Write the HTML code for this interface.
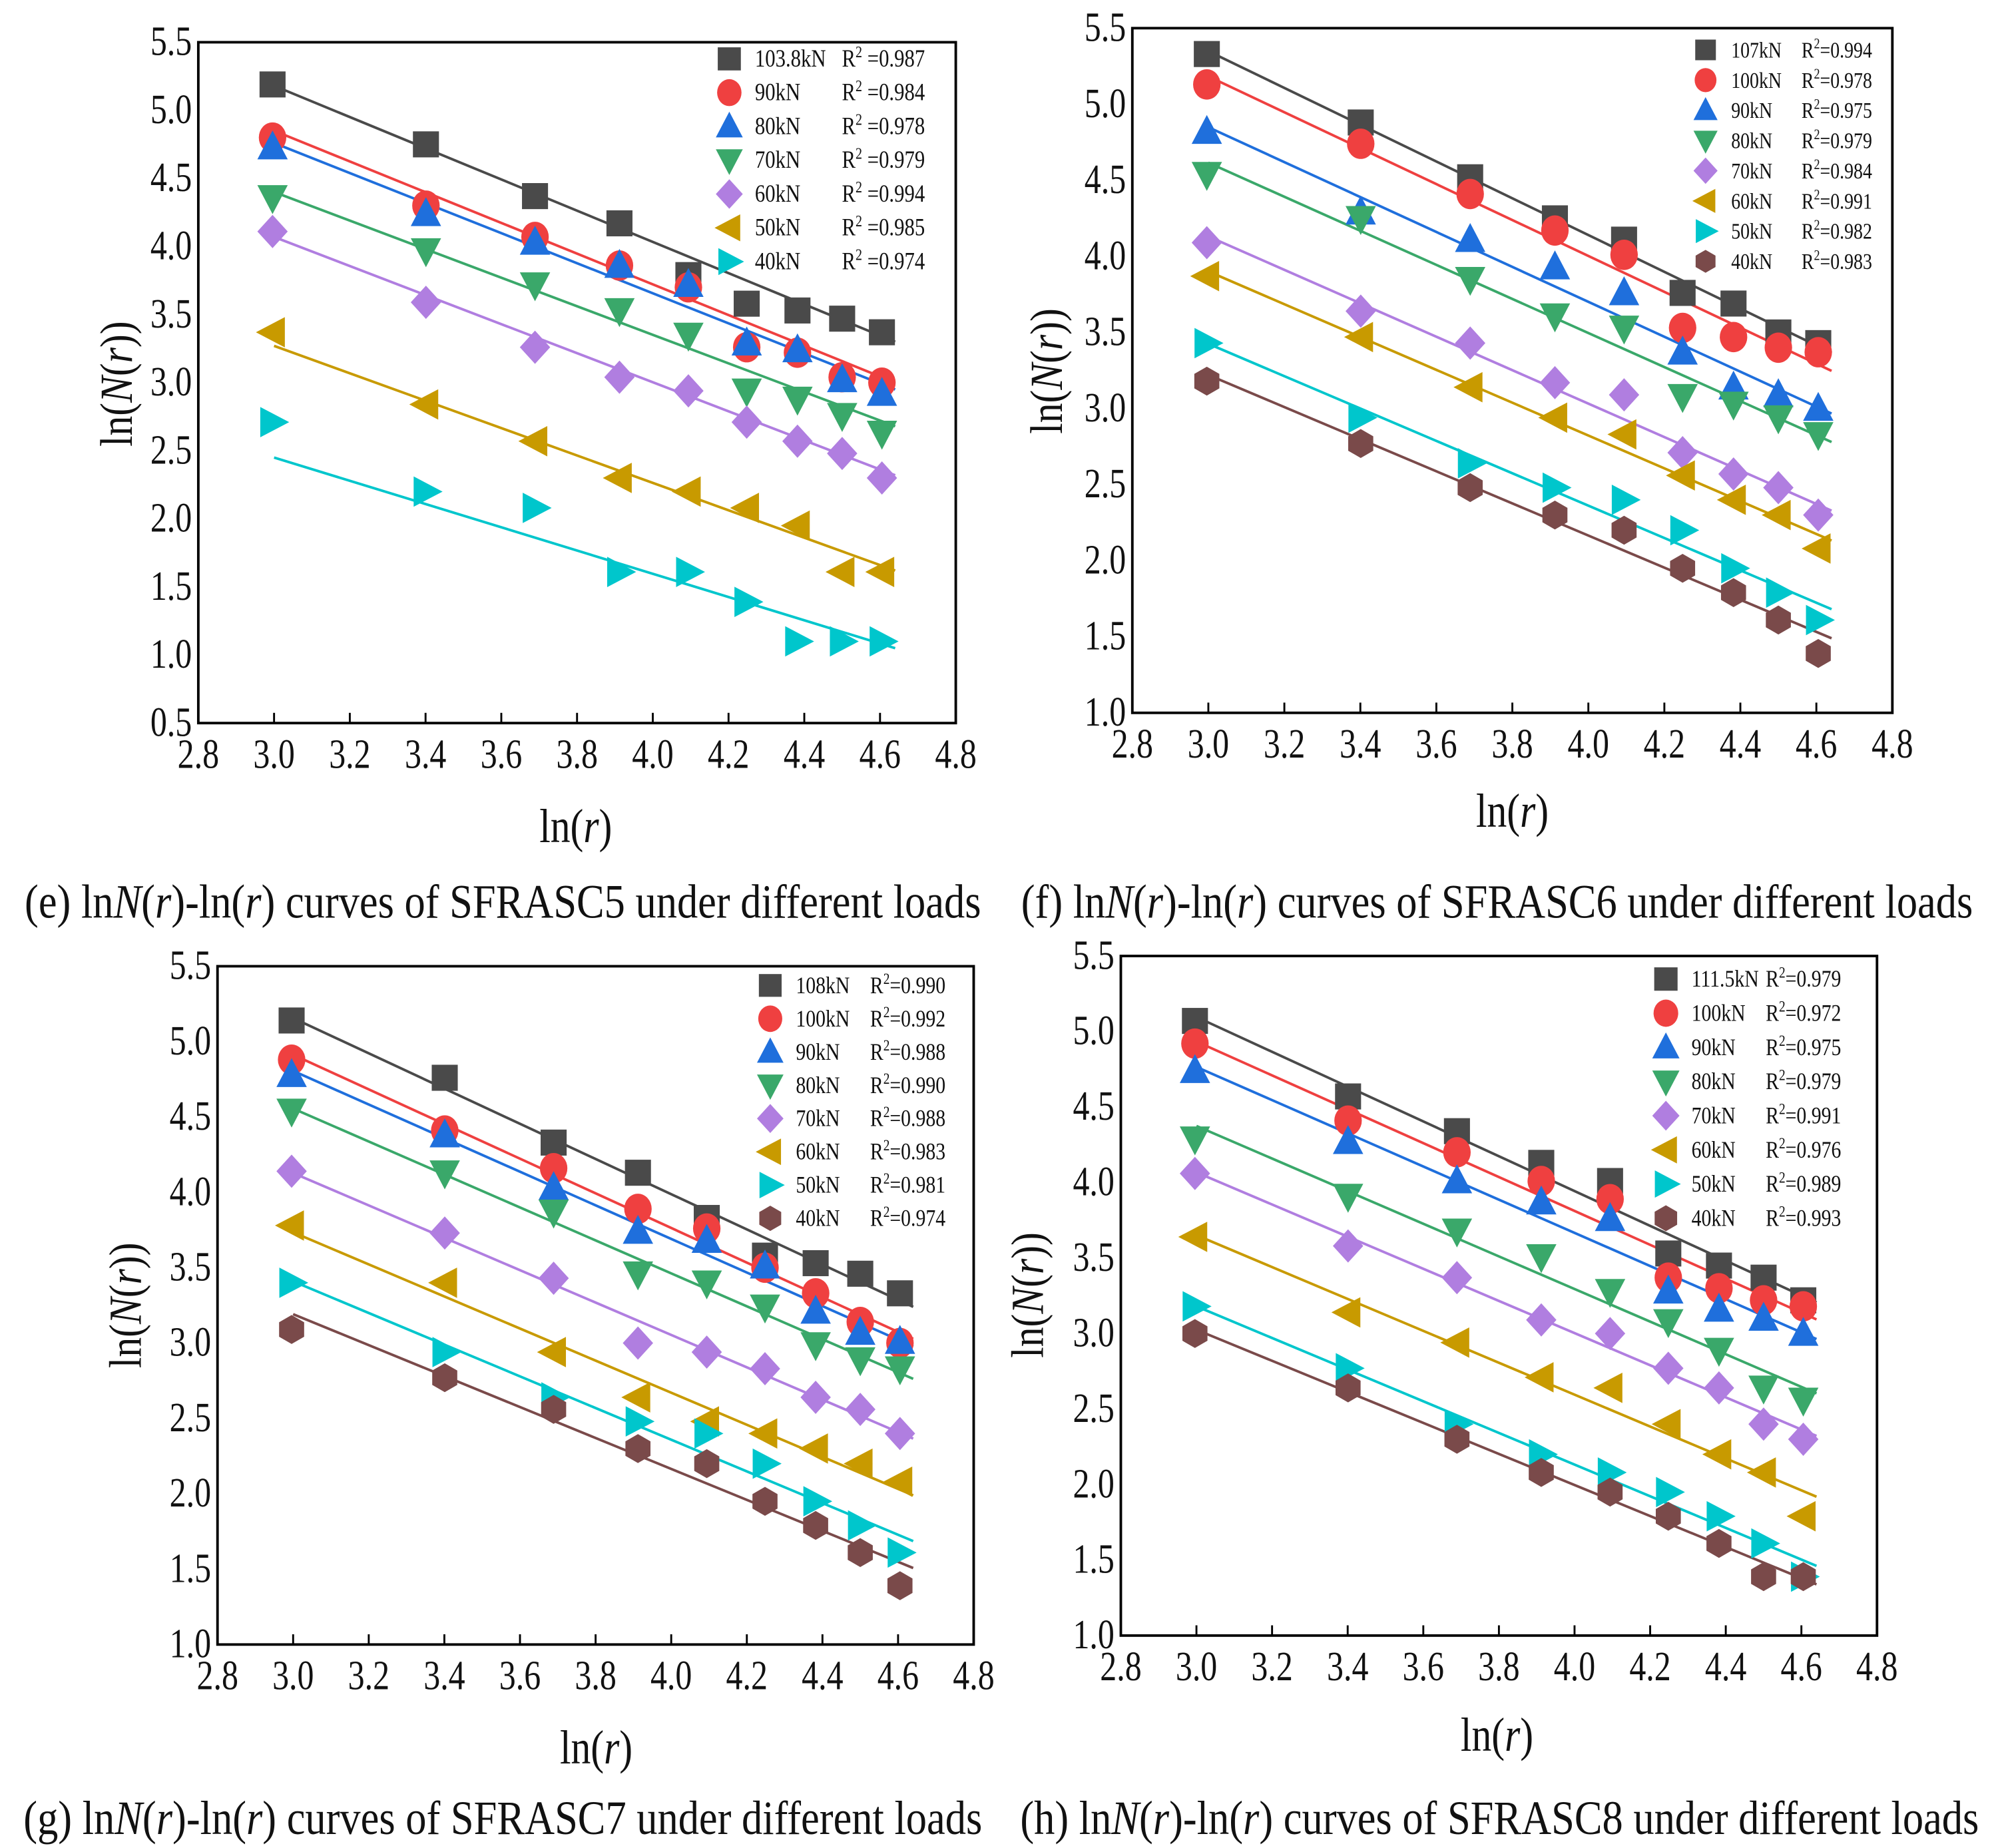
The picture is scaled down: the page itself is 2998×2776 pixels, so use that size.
<!DOCTYPE html>
<html><head><meta charset="utf-8"><style>
html,body{margin:0;padding:0;background:#fff;}
svg{display:block;}
text{font-family:"Liberation Serif",serif;fill:#111;}
</style></head><body>
<svg id="s" width="2998" height="2776" viewBox="0 0 1560 1444" preserveAspectRatio="none" xmlns="http://www.w3.org/2000/svg"></svg>
<script>
const xVals=[2.996,3.401,3.689,3.912,4.094,4.248,4.382,4.5,4.605];
const colors=['#4a4a4a','#ef4040','#1f6fdc','#3aa86a','#b07ee0','#c89a00','#00c6cc','#7a4a4a'];
const shapes=['square','circle','up','down','diamond','left','right','hex'];
// panel e
const eLabels=['103.8kN','90kN','80kN','70kN','60kN','50kN','40kN'];
const eR2=['0.987','0.984','0.978','0.979','0.994','0.985','0.974'];
const eS1=[5.19,4.75,4.37,4.17,3.79,3.58,3.53,3.47,3.37];
const eS2=[4.80,4.30,4.07,3.86,3.70,3.26,3.22,3.04,3.00];
const eS3=[4.73,4.24,4.03,3.86,3.72,3.29,3.24,3.02,2.92];
const eS4=[4.36,3.97,3.72,3.53,3.35,2.94,2.88,2.76,2.63];
const eS5=[4.11,3.59,3.26,3.04,2.94,2.71,2.57,2.48,2.30];
const eS6=[3.37,2.84,2.57,2.30,2.20,2.08,1.95,1.61,1.61];
const eS7=[2.71,2.20,2.08,1.61,1.61,1.39,1.10,1.10,1.10];
// fitted line values for panel e at ln(r)=3.0 and 4.64
const eFitStart=[5.18,4.85,4.76,4.40,4.07,3.27,2.45];
const eFitEnd=[3.30,3.00,2.95,2.68,2.32,1.62,1.05];
// panel f
const fLabels=['107kN','100kN','90kN','80kN','70kN','60kN','50kN','40kN'];
const fR2=['0.994','0.978','0.975','0.979','0.984','0.991','0.982','0.983'];
const fS1=[5.33,4.88,4.52,4.25,4.11,3.76,3.69,3.50,3.43];
const fS2=[5.13,4.74,4.41,4.17,4.01,3.53,3.47,3.40,3.37];
const fS3=[4.82,4.29,4.11,3.93,3.76,3.37,3.14,3.09,3.00];
const fS4=[4.54,4.25,3.85,3.61,3.53,3.08,3.03,2.94,2.83];
const fS5=[4.09,3.64,3.43,3.17,3.09,2.71,2.57,2.48,2.30];
const fS6=[3.87,3.47,3.14,2.94,2.83,2.56,2.40,2.30,2.08];
const fS7=[3.43,2.94,2.64,2.48,2.40,2.20,1.95,1.79,1.61];
const fS8=[3.18,2.77,2.48,2.30,2.20,1.95,1.79,1.61,1.39];
// panel g
const gLabels=['108kN','100kN','90kN','80kN','70kN','60kN','50kN','40kN'];
const gR2=['0.990','0.992','0.988','0.990','0.988','0.983','0.981','0.974'];
const gS1=[5.14,4.76,4.33,4.13,3.83,3.58,3.53,3.46,3.33];
const gS2=[4.88,4.41,4.16,3.89,3.76,3.50,3.33,3.14,3.00];
const gS3=[4.78,4.38,4.03,3.74,3.68,3.51,3.21,3.07,3.01];
const gS4=[4.54,4.13,3.87,3.46,3.40,3.24,2.99,2.89,2.83];
const gS5=[4.14,3.73,3.43,3.00,2.94,2.83,2.64,2.56,2.40];
const gS6=[3.78,3.40,2.94,2.64,2.48,2.40,2.30,2.20,2.08];
const gS7=[3.40,2.94,2.64,2.48,2.40,2.20,1.95,1.79,1.61];
const gS8=[3.09,2.77,2.56,2.30,2.20,1.95,1.79,1.61,1.39];
// panel h
const hLabels=['111.5kN','100kN','90kN','80kN','70kN','60kN','50kN','40kN'];
const hR2=['0.979','0.972','0.975','0.979','0.991','0.976','0.989','0.993'];
const hS1=[5.07,4.57,4.34,4.13,4.01,3.53,3.45,3.37,3.22];
const hS2=[4.92,4.41,4.20,4.01,3.89,3.37,3.30,3.22,3.18];
const hS3=[4.74,4.27,4.01,3.87,3.76,3.28,3.16,3.10,3.00];
const hS4=[4.29,3.91,3.68,3.51,3.28,3.08,2.89,2.64,2.56];
const hS5=[4.06,3.58,3.37,3.09,3.00,2.77,2.64,2.40,2.30];
const hS6=[3.64,3.14,2.94,2.71,2.64,2.40,2.20,2.08,1.79];
const hS7=[3.18,2.77,2.40,2.20,2.08,1.95,1.79,1.61,1.39];
const hS8=[3.00,2.64,2.30,2.08,1.95,1.79,1.61,1.39,1.39];
const xTicks=[2.8,3.0,3.2,3.4,3.6,3.8,4.0,4.2,4.4,4.6,4.8];

const NS='http://www.w3.org/2000/svg';
const svg=document.getElementById('s');
function mk(tag,attrs,parent){const e=document.createElementNS(NS,tag);for(const k in attrs)e.setAttribute(k,attrs[k]);(parent||svg).appendChild(e);return e;}
function stext(parent,x,y,size,anchor,sy,rot){
  const t=mk('text',{x:0,y:0,'text-anchor':anchor,'font-size':size,transform:`translate(${x},${y})${rot?' rotate(-90)':''} scale(1,${sy})`},parent);
  return t;
}

function marker(g,shape,cx,cy,r,col){
  let e;
  if(shape==='square'){e=mk('rect',{x:cx-r*0.9,y:cy-r*0.9,width:r*1.8,height:r*1.8,fill:col},g);}
  else if(shape==='circle'){e=mk('ellipse',{cx:cx,cy:cy,rx:r*0.95,ry:r*1.05,fill:col},g);}
  else{
    let pts;
    if(shape==='up')pts=[[0,-1.15],[1.05,0.85],[-1.05,0.85]];
    else if(shape==='down')pts=[[0,1.15],[1.05,-0.85],[-1.05,-0.85]];
    else if(shape==='left')pts=[[-1.15,0],[0.85,-1.05],[0.85,1.05]];
    else if(shape==='right')pts=[[1.15,0],[-0.85,-1.05],[-0.85,1.05]];
    else if(shape==='diamond')pts=[[0,-1.15],[1.05,0],[0,1.15],[-1.05,0]];
    else {pts=[];for(let i=0;i<6;i++){const a=Math.PI/6+i*Math.PI/3;pts.push([Math.cos(a),Math.sin(a)]);}}
    e=mk('polygon',{points:pts.map(p=>(cx+p[0]*r)+','+(cy+p[1]*r)).join(' '),fill:col},g);
  }
  return e;
}

function panel(cfg){
  const g=mk('g',{});
  
  
  const X=v=>cfg.x0+(v-2.8)/2.0*(cfg.x1-cfg.x0);
  const Y=v=>cfg.y1-(v-cfg.ymin)/(5.5-cfg.ymin)*(cfg.y1-cfg.y0);
  const fr=mk('rect',{x:cfg.x0,y:cfg.y0,width:cfg.x1-cfg.x0,height:cfg.y1-cfg.y0,fill:'none',stroke:'#000','stroke-width':2},g);
  
  
  xTicks.forEach(t=>{
    mk('line',{x1:X(t),x2:X(t),y1:cfg.y1,y2:cfg.y1-8,stroke:'#000','stroke-width':1.5},g);
    const tx=stext(g,X(t),cfg.y1+35,26,'middle',1.25);
    tx.textContent=t.toFixed(1);
    
    
  });
  for(let v=cfg.ymin;v<=5.5001;v+=0.5){
    const tx=stext(g,cfg.x0-5,Y(v)+10,26,'end',1.25);
    tx.textContent=v.toFixed(1);
    
    
  }
  const yt=stext(g,cfg.ylx,cfg.yly,31,'middle',1.15,true);
  yt.innerHTML='ln(<tspan font-style="italic">N</tspan>(<tspan font-style="italic">r</tspan>))';
  
  
  const xt=stext(g,cfg.xlx,cfg.xly,31,'middle',1.2);
  xt.innerHTML='ln(<tspan font-style="italic">r</tspan>)';
  
  
  const cap=stext(g,cfg.capx,cfg.capy,32.5,'middle',1.15);
  cap.innerHTML='('+cfg.letter+') ln<tspan font-style="italic">N</tspan>(<tspan font-style="italic">r</tspan>)-ln(<tspan font-style="italic">r</tspan>) curves of '+cfg.spec+' under different loads';
  
  
  const xa=3.0,xb=4.64;
  cfg.series.forEach((ys,i)=>{
    let ya,yb;
    if(cfg.fitStart){ya=cfg.fitStart[i];yb=cfg.fitEnd[i];}
    else{
      const n=xVals.length;let sx=0,sy=0,sxx=0,sxy=0;
      for(let k=0;k<n;k++){sx+=xVals[k];sy+=ys[k];sxx+=xVals[k]*xVals[k];sxy+=xVals[k]*ys[k];}
      const b=(n*sxy-sx*sy)/(n*sxx-sx*sx),a=(sy-b*sx)/n;
      ya=a+b*xa;yb=a+b*xb;
    }
    const ln=mk('line',{x1:X(xa),y1:Y(ya),x2:X(xb),y2:Y(yb),stroke:colors[i],'stroke-width':2},g);
    
    
  });
  cfg.series.forEach((ys,i)=>{
    ys.forEach((v,k)=>{
      const m=marker(g,shapes[i],X(xVals[k]),Y(v),11.3,colors[i]);
      
      
    });
  });
  cfg.labels.forEach((lab,i)=>{
    const y=cfg.ly+i*cfg.lstep;
    const lg=mk('g',{},g);
    
    
    marker(lg,shapes[i],cfg.lx,y,cfg.lstep*0.38,colors[i]);
    const t=stext(lg,cfg.lx+20,y+6,cfg.lfs,'start',1.2);t.textContent=lab;
    const r=stext(lg,cfg.rx,y+6,cfg.lfs,'start',1.2);
    r.innerHTML='R<tspan dy="-6" font-size="'+(cfg.lfs*0.65)+'">2</tspan><tspan dy="6">'+cfg.sep+cfg.r2[i]+'</tspan>';
  });
}

panel({name:'panel-e',letter:'e',spec:'SFRASC5',x0:155,x1:747,y0:33,y1:565,ymin:0.5,
  series:[eS1,eS2,eS3,eS4,eS5,eS6,eS7],labels:eLabels,r2:eR2,sep:' =',fitStart:eFitStart,fitEnd:eFitEnd,
  lx:570,rx:658,ly:46,lstep:26.4,lfs:16,ylx:103,yly:300,xlx:450,xly:658,capx:393,capy:717});
panel({name:'panel-f',letter:'f',spec:'SFRASC6',x0:885,x1:1479,y0:22,y1:557,ymin:1.0,
  series:[fS1,fS2,fS3,fS4,fS5,fS6,fS7,fS8],labels:fLabels,r2:fR2,sep:'=',
  lx:1333,rx:1408,ly:39,lstep:23.6,lfs:14.5,ylx:830,yly:290,xlx:1182,xly:646,capx:1170,capy:717});
panel({name:'panel-g',letter:'g',spec:'SFRASC7',x0:170,x1:761,y0:755,y1:1285,ymin:1.0,
  series:[gS1,gS2,gS3,gS4,gS5,gS6,gS7,gS8],labels:gLabels,r2:gR2,sep:'=',
  lx:602,rx:680,ly:770,lstep:26,lfs:15.5,ylx:110,yly:1020,xlx:466,xly:1378,capx:393,capy:1433});
panel({name:'panel-h',letter:'h',spec:'SFRASC8',x0:876,x1:1467,y0:747,y1:1278,ymin:1.0,
  series:[hS1,hS2,hS3,hS4,hS5,hS6,hS7,hS8],labels:hLabels,r2:hR2,sep:'=',
  lx:1302,rx:1380,ly:765,lstep:26.7,lfs:15.5,ylx:815,yly:1012,xlx:1170,xly:1368,capx:1172,capy:1433});
</script>
</body></html>
